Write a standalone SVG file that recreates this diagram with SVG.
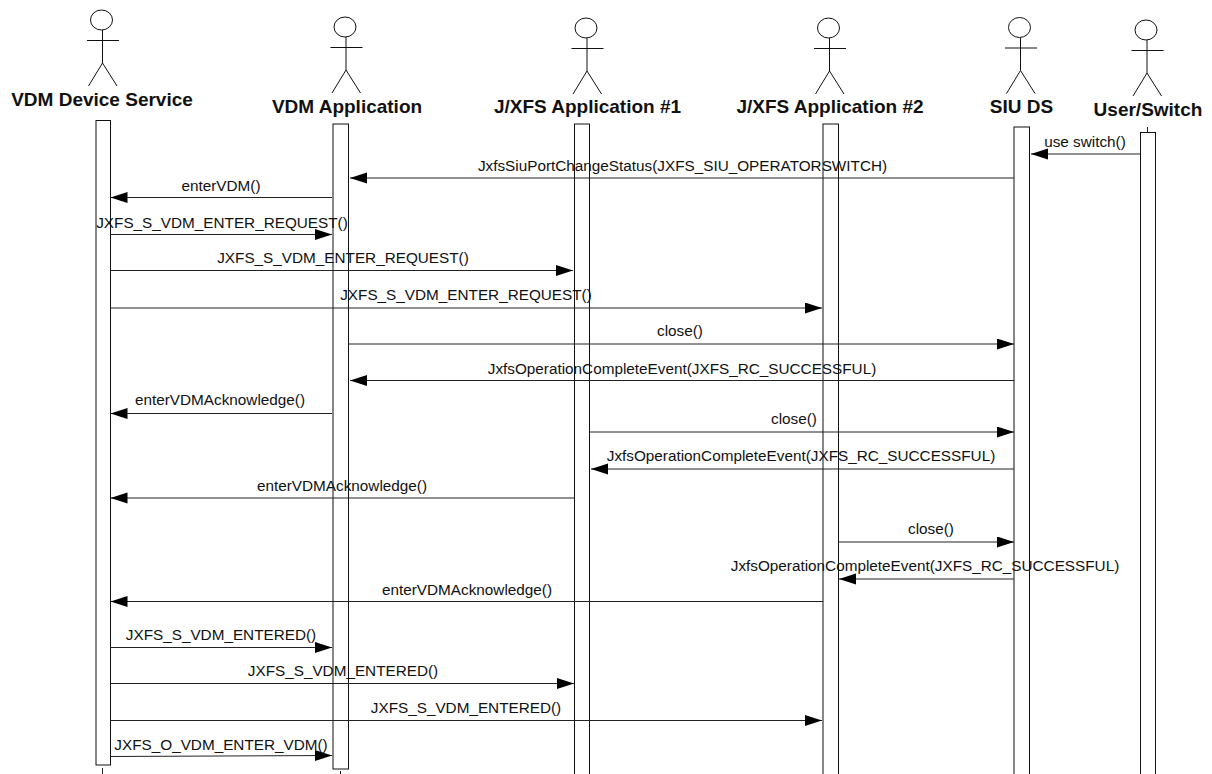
<svg xmlns="http://www.w3.org/2000/svg" width="1212" height="774" viewBox="0 0 1212 774">
<style>
text{font-family:"Liberation Sans",Arial,sans-serif;fill:#111}
.n{font-size:19px;font-weight:700;text-anchor:middle}
.m{font-size:15.3px;text-anchor:middle}
.a{fill:none;stroke:#111;stroke-width:1}
.b{fill:#fff;stroke:#111;stroke-width:1}
.c{fill:none;stroke:#222;stroke-width:1}
</style>
<defs>
<marker id="ah" markerUnits="userSpaceOnUse" markerWidth="18" markerHeight="12" refX="17" refY="5.500" orient="auto"><path d="M0 0L17 5.500L0 11Z" fill="#000"/></marker>
<g id="actor"><ellipse cx="0" cy="0" rx="11" ry="10" class="a"/><path class="a" d="M1 10V43M-14.500 20.500H17.500M1 43L-13 66M1 43L15.500 66"/></g>
</defs>
<g id="vdm-device-service"><use href="#actor" x="101.500" y="20"/><text class="n" x="102" y="105.700">VDM Device Service</text><path class="c" d="M102.500 768V774"/><rect class="b" x="96" y="120.500" width="14.500" height="644.500"/></g>
<g id="vdm-application"><use href="#actor" x="345" y="27"/><text class="n" x="347" y="112.700">VDM Application</text><path class="c" d="M340.500 771V774"/><rect class="b" x="333" y="124" width="15.500" height="645"/></g>
<g id="jxfs-application-1"><use href="#actor" x="586" y="28"/><text class="n" x="587.500" y="112.700">J/XFS Application #1</text><rect class="b" x="574.500" y="124" width="15" height="651"/></g>
<g id="jxfs-application-2"><use href="#actor" x="828.500" y="28"/><text class="n" x="830" y="112.700">J/XFS Application #2</text><rect class="b" x="823" y="124" width="15.500" height="651"/></g>
<g id="siu-ds"><use href="#actor" x="1019.500" y="27.500"/><text class="n" x="1021.500" y="112.700">SIU DS</text><rect class="b" x="1014" y="127" width="15.500" height="648"/></g>
<g id="user-switch"><use href="#actor" x="1146" y="30"/><text class="n" x="1148" y="115.700">User/Switch</text><path class="c" d="M1147.500 127V132"/><rect class="b" x="1140.500" y="132.500" width="15" height="642"/></g>
<g id="connectors">
<path class="c" marker-end="url(#ah)" d="M1140 154H1031"/>
<path class="c" marker-end="url(#ah)" d="M1014 178H350"/>
<path class="c" marker-end="url(#ah)" d="M332 197.500H110.500"/>
<path class="c" marker-end="url(#ah)" d="M110 234.500H332"/>
<path class="c" marker-end="url(#ah)" d="M110 270.500H573"/>
<path class="c" marker-end="url(#ah)" d="M110 308H822"/>
<path class="c" marker-end="url(#ah)" d="M348 344H1014"/>
<path class="c" marker-end="url(#ah)" d="M1014 380.500H350"/>
<path class="c" marker-end="url(#ah)" d="M332 413.500H110.500"/>
<path class="c" marker-end="url(#ah)" d="M590 432H1014"/>
<path class="c" marker-end="url(#ah)" d="M1014 469H591"/>
<path class="c" marker-end="url(#ah)" d="M575 498H110.500"/>
<path class="c" marker-end="url(#ah)" d="M838 542H1014"/>
<path class="c" marker-end="url(#ah)" d="M1014 579H839"/>
<path class="c" marker-end="url(#ah)" d="M823 601.500H110.500"/>
<path class="c" marker-end="url(#ah)" d="M110 647.500H332"/>
<path class="c" marker-end="url(#ah)" d="M110 683.500H574"/>
<path class="c" marker-end="url(#ah)" d="M110 720.500H822"/>
<path class="c" marker-end="url(#ah)" d="M110 756.500L332 755.500"/>
</g>
<g id="labels">
<text class="m" x="1085" y="147">use switch()</text>
<text class="m" x="682.500" y="171">JxfsSiuPortChangeStatus(JXFS_SIU_OPERATORSWITCH)</text>
<text class="m" x="221" y="191">enterVDM()</text>
<text class="m" x="222" y="228">JXFS_S_VDM_ENTER_REQUEST()</text>
<text class="m" x="343" y="263">JXFS_S_VDM_ENTER_REQUEST()</text>
<text class="m" x="466" y="300">JXFS_S_VDM_ENTER_REQUEST()</text>
<text class="m" x="680" y="336">close()</text>
<text class="m" x="682" y="374">JxfsOperationCompleteEvent(JXFS_RC_SUCCESSFUL)</text>
<text class="m" x="220" y="405">enterVDMAcknowledge()</text>
<text class="m" x="794" y="424">close()</text>
<text class="m" x="801" y="461">JxfsOperationCompleteEvent(JXFS_RC_SUCCESSFUL)</text>
<text class="m" x="342" y="491">enterVDMAcknowledge()</text>
<text class="m" x="931" y="534">close()</text>
<text class="m" x="925" y="571">JxfsOperationCompleteEvent(JXFS_RC_SUCCESSFUL)</text>
<text class="m" x="467" y="595">enterVDMAcknowledge()</text>
<text class="m" x="221" y="640">JXFS_S_VDM_ENTERED()</text>
<text class="m" x="343" y="676">JXFS_S_VDM_ENTERED()</text>
<text class="m" x="466" y="713">JXFS_S_VDM_ENTERED()</text>
<text class="m" x="221" y="750">JXFS_O_VDM_ENTER_VDM()</text>
</g>
</svg>
